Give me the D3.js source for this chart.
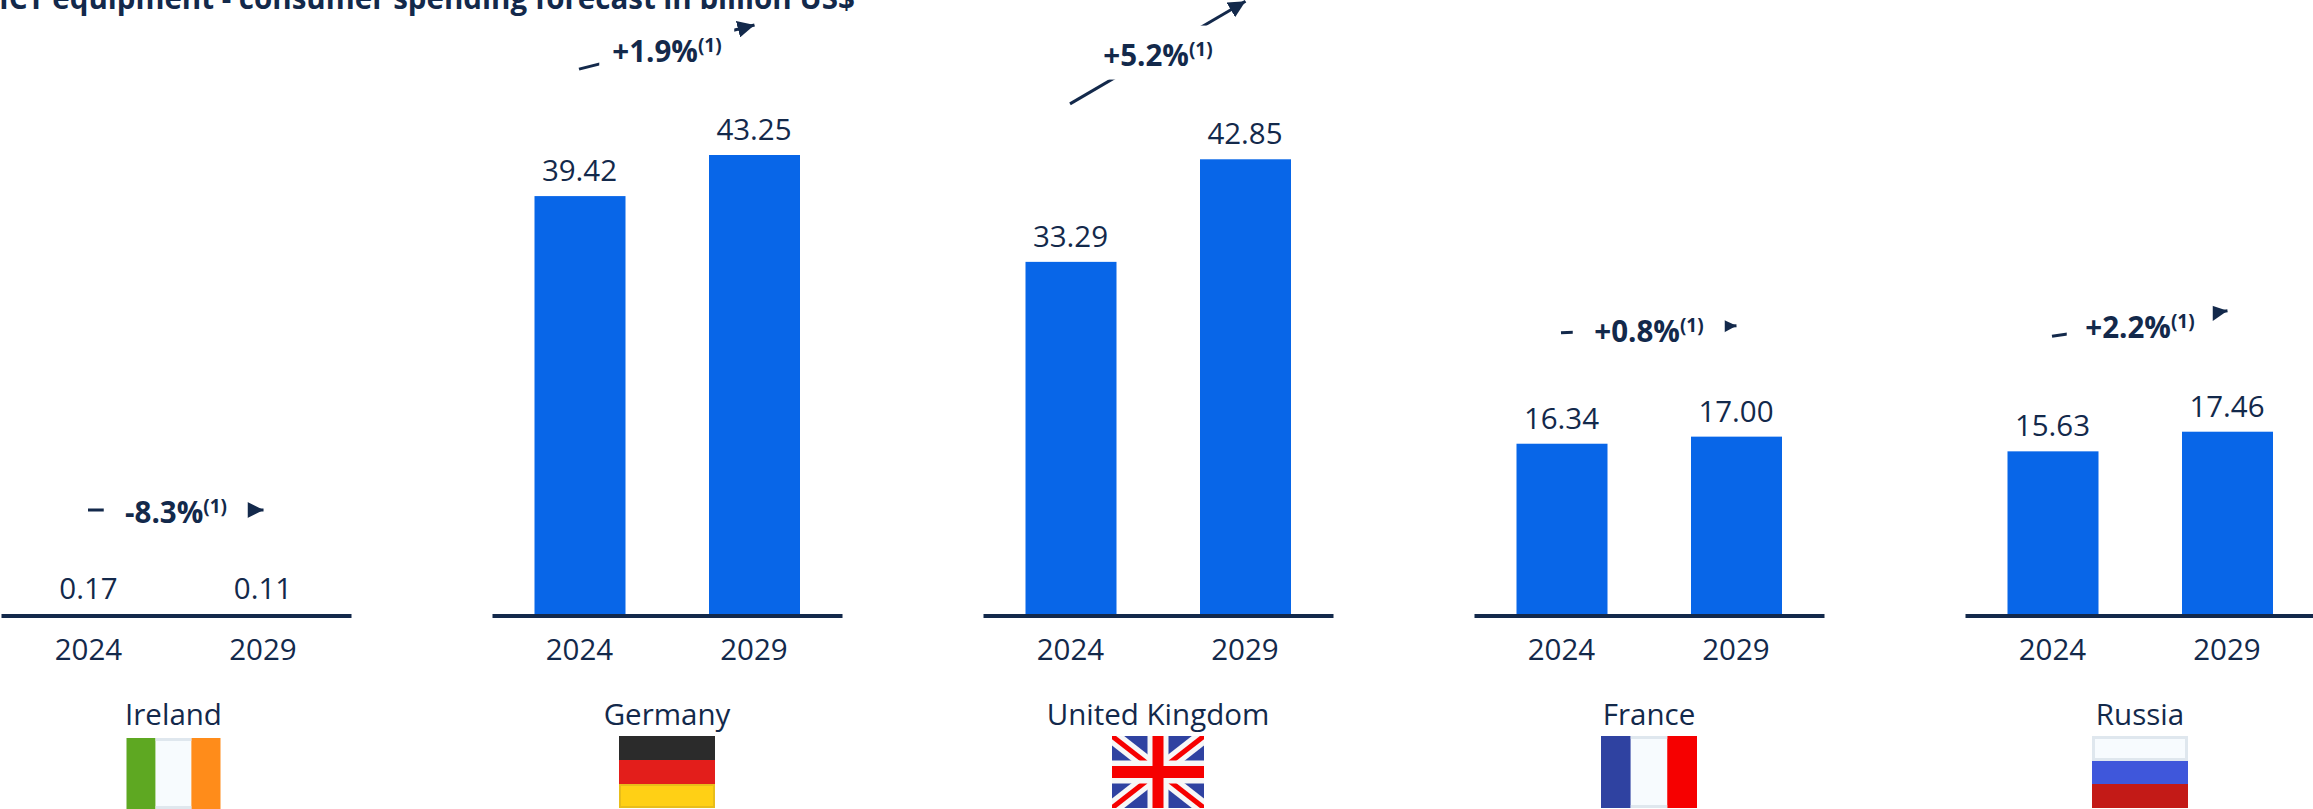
<!DOCTYPE html>
<html><head><meta charset="utf-8">
<script src="https://cdn.jsdelivr.net/npm/d3@7"></script>
<style>html,body{margin:0;padding:0;background:#fff;overflow:hidden}svg{display:block}text{font-family:"Open Sans",sans-serif;fill:#13294b}</style>
</head><body><div id="chart"></div>
<script>
const titleText = "ICT equipment - consumer spending forecast in billion US$";
const countries = ["Ireland","Germany","United Kingdom","France","Russia"];
const years = ["2024","2029"];
const values2024 = [0.17,39.42,33.29,16.34,15.63];
const values2029 = [0.11,43.25,42.85,17.00,17.46];
const cagrLabels = ["-8.3%","+1.9%","+5.2%","+0.8%","+2.2%"];
const note = "(1)";

const W=2313,H=809,dark="#13294b",blue="#0866e8",fs=29.5;
const svg=d3.select("#chart").append("svg").attr("width",W).attr("height",H);
const defs=svg.append("defs");
defs.append("marker").attr("id","head").attr("viewBox","0 0 10 10").attr("refX",10).attr("refY",5)
 .attr("markerUnits","userSpaceOnUse").attr("markerWidth",17).attr("markerHeight",17).attr("orient","auto")
 .append("path").attr("d","M0,0L10,5L0,10Z").attr("fill",dark);

// layout of each country panel
const panelX=d3.scaleBand().domain(countries).range([1.5,1.5+491*5]);
const panelW=350, base=614;
const xx=d3.scalePoint().domain(years).range([86.5,261]);
// the reference's bars fit a value axis that starts just above zero, so Ireland's bars have no height
const y=d3.scaleLinear().domain([0.47,43.25]).range([base,155]).clamp(true);
const barW=91;
// arrow lift above each bar top, label baseline, white box half-sizes, centre shift of name and flag
const lift=[[104,104],[127,130],[158,158],[111,111],[115,121]];
const labelBaseline=[523,62,66,342,338];
const boxHalf=[[72,30],[67.5,30],[66,27],[76,30],[73,30]];
const nameShift=[-2.5,0,0,0,0];

countries.forEach((c,i)=>{
 const g=svg.append("g").attr("transform",`translate(${panelX(c)},0)`);
 const vals=[values2024[i],values2029[i]];
 g.selectAll("rect.bar").data(vals).join("rect").attr("class","bar")
  .attr("x",(d,k)=>xx(years[k])-barW/2+1).attr("width",barW)
  .attr("y",d=>y(d)).attr("height",d=>base-y(d)).attr("fill",blue);
 g.append("line").attr("x1",0).attr("x2",panelW).attr("y1",base+2).attr("y2",base+2)
  .attr("stroke",dark).attr("stroke-width",4);
 g.selectAll("text.val").data(vals).join("text").attr("class","val")
  .attr("x",(d,k)=>xx(years[k])+0.5).attr("y",d=>Math.min(y(d)-15,base-11))
  .attr("text-anchor","middle").attr("font-size",fs).text(d=>d.toFixed(2));
 g.selectAll("text.yr").data(years).join("text").attr("class","yr")
  .attr("x",d=>xx(d)+0.5).attr("y",660).attr("text-anchor","middle").attr("font-size",fs).text(d=>d);
 const cxName=panelW/2-0.5+nameShift[i];
 g.append("text").attr("x",cxName).attr("y",725).attr("text-anchor","middle").attr("font-size",fs).text(c);
 const x1=xx("2024"),x2=xx("2029")+1,y1=y(vals[0])-lift[i][0],y2=y(vals[1])-lift[i][1];
 g.append("line").attr("x1",x1).attr("y1",y1).attr("x2",x2).attr("y2",y2)
  .attr("stroke",dark).attr("stroke-width",3).attr("marker-end","url(#head)");
 const cx=(x1+x2)/2, cy=(y1+y2)/2;
 g.append("rect").attr("x",cx-boxHalf[i][0]).attr("y",cy-boxHalf[i][1])
  .attr("width",boxHalf[i][0]*2).attr("height",boxHalf[i][1]*2).attr("fill","#fff");
 const t=g.append("text").attr("x",panelW/2-0.5).attr("y",labelBaseline[i]).attr("text-anchor","middle")
  .attr("font-weight",700).attr("font-size",fs);
 t.append("tspan").text(cagrLabels[i]);
 t.append("tspan").attr("font-size",19).attr("dy",-10).text(note);
 drawFlag(g,c,cxName);
});

function drawFlag(g,c,cx){
 const top=736,h=72,w=c==="United Kingdom"?92:c==="Ireland"?94:96,left=cx-w/2;
 const f=g.append("g").attr("transform",`translate(${left},${top})`);
 if(c==="Ireland"||c==="France"){
  const cols=c==="Ireland"?["#5ea822","#f7fbfe","#ff8c1a"]:["#2f42a1","#f7fbfe","#f60000"];
  const ws=[w*.31,w*.38,w*.31];
  const ft=c==="Ireland"?2:0, fh=c==="Ireland"?71:h;
  let a=0;ws.forEach((q,k)=>{f.append("rect").attr("x",a).attr("y",ft).attr("width",q).attr("height",fh).attr("fill",cols[k]);a+=q;});
  f.append("rect").attr("x",ws[0]).attr("y",ft).attr("width",ws[1]).attr("height",3).attr("fill","#dfe7ee");
  f.append("rect").attr("x",ws[0]).attr("y",ft+fh-3).attr("width",ws[1]).attr("height",3).attr("fill","#dfe7ee");
 } else if(c==="Germany"||c==="Russia"){
  const cols=c==="Germany"?["#2b2b2b","#e31e1b","#ffd015"]:["#f7fbfe","#3f57db","#c31a17"];
  cols.forEach((col,k)=>f.append("rect").attr("x",0).attr("y",k*h/3).attr("width",w).attr("height",h/3).attr("fill",col));
  if(c==="Russia")f.append("rect").attr("x",1.5).attr("y",1.5).attr("width",w-3).attr("height",h/3-2).attr("fill","none").attr("stroke","#dfe7ee").attr("stroke-width",3);
  else f.append("rect").attr("x",1).attr("y",2*h/3+1).attr("width",w-2).attr("height",h/3-2).attr("fill","none").attr("stroke","#e8bd1a").attr("stroke-width",2);
 } else {
  defs.append("clipPath").attr("id","uk").append("rect").attr("width",w).attr("height",h);
  const u=f.append("g").attr("clip-path","url(#uk)");
  u.append("rect").attr("width",w).attr("height",h).attr("fill","#2f42a1");
  [[0,0,w,h],[w,0,0,h]].forEach(p=>{
   u.append("line").attr("x1",p[0]).attr("y1",p[1]).attr("x2",p[2]).attr("y2",p[3]).attr("stroke","#f7f7f7").attr("stroke-width",15);
   u.append("line").attr("x1",p[0]).attr("y1",p[1]).attr("x2",p[2]).attr("y2",p[3]).attr("stroke","#f60000").attr("stroke-width",5);
  });
  u.append("rect").attr("x",w/2-10.5).attr("width",21).attr("height",h).attr("fill","#f7f7f7");
  u.append("rect").attr("y",h/2-11.5).attr("width",w).attr("height",23).attr("fill","#f7f7f7");
  u.append("rect").attr("x",w/2-5.5).attr("width",11).attr("height",h).attr("fill","#f60000");
  u.append("rect").attr("y",h/2-6).attr("width",w).attr("height",12).attr("fill","#f60000");
 }
}

svg.append("text").attr("x",-1).attr("y",8.5).attr("font-weight",700).attr("font-size",fs).text(titleText);
</script></body></html>
